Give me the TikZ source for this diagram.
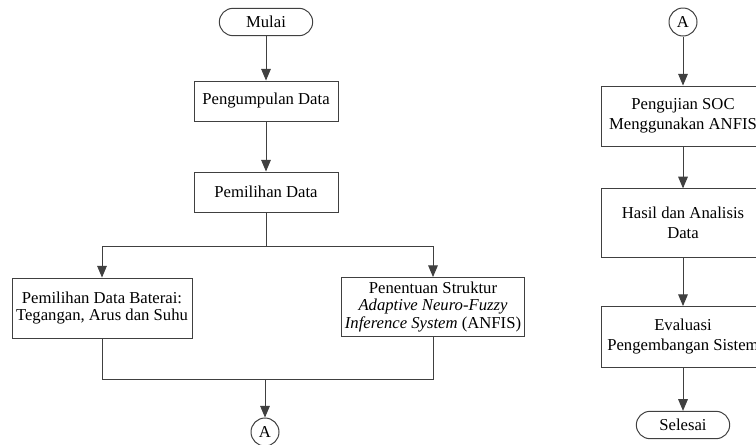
\documentclass[tikz,border=0pt]{standalone}
\usepackage{fontspec}
\setmainfont{Liberation Serif}
\usetikzlibrary{arrows,positioning,calc}

\tikzset{
  line/.style={draw=black!75, line width=0.6pt},
  arr/.style={line, -triangle 45},
  proc/.style={line, rectangle, align=center, inner sep=2pt,
    font=\fontsize{10}{10.5}\selectfont},
  wideproc/.style={proc, font=\fontsize{10}{12}\selectfont},
  term/.style={proc, rounded corners=8.2pt, minimum width=56pt, minimum height=16.4pt},
  conn/.style={line, circle, minimum size=16.8pt, inner sep=0pt, font=\fontsize{10}{12}\selectfont}
}

\begin{document}
\begin{tikzpicture}[x=0.6pt,y=-0.6pt]
  \clip (0,0) rectangle (756,444);
  % left column
  \node[term] (mulai) at (266,22) {Mulai};
  \node[proc, minimum width=86.4pt, minimum height=24pt] (kumpul) at (266,101) {Pengumpulan Data};
  \node[proc, minimum width=86.4pt, minimum height=24pt] (pilih) at (266,192) {Pemilihan Data};
  \coordinate (split) at (266,246);
  \node[proc, minimum width=108pt, minimum height=36pt] (baterai) at (102,308)
    {Pemilihan Data Baterai:\\Tegangan, Arus dan Suhu};
  \node[proc, minimum width=109.2pt, minimum height=35.4pt] (anfis) at (433,307)
    {Penentuan Struktur\\\textit{Adaptive Neuro-Fuzzy}\\\textit{Inference System} (ANFIS)};
  \coordinate (join) at (265,379);
  \node[conn] (a1) at (265,432) {A};

  \draw[arr] (mulai) -- (kumpul);
  \draw[arr] (kumpul) -- (pilih);
  \draw[line] (pilih) -- (split);
  \draw[arr] (split) -| (baterai);
  \draw[arr] (split) -| (anfis);
  \draw[line] (baterai) |- (join);
  \draw[line] (anfis) |- (join);
  \draw[arr] (join) -- (a1);

  % right column
  \node[conn] (a2) at (683,22) {A};
  \node[wideproc, minimum width=98.4pt, minimum height=36pt] (uji) at (683,116)
    {Pengujian SOC\\Menggunakan ANFIS};
  \node[wideproc, minimum width=98.4pt, minimum height=41pt] (hasil) at (683,223)
    {Hasil dan Analisis\\Data};
  \node[wideproc, minimum width=98.4pt, minimum height=36.6pt] (evaluasi) at (683,337)
    {Evaluasi\\Pengembangan Sistem};
  \node[term] (selesai) at (683,425) {Selesai};

  \draw[arr] (a2) -- (uji);
  \draw[arr] (uji) -- (hasil);
  \draw[arr] (hasil) -- (evaluasi);
  \draw[arr] (evaluasi) -- (selesai);
\end{tikzpicture}
\end{document}
